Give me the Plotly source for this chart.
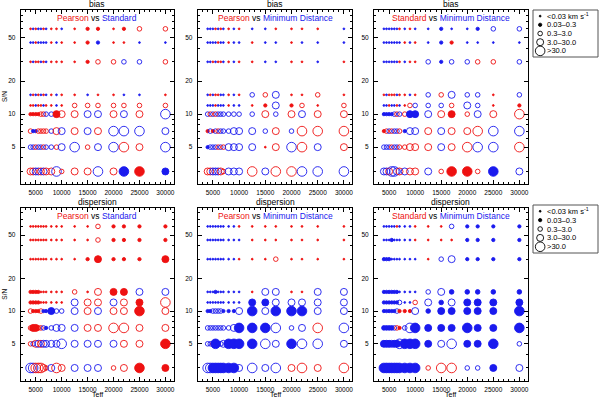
import plotly.graph_objects as go

# Teff grid (columns) and S/N grid (rows, top to bottom)
TEFF = [4000, 4500, 5000, 5500, 6000, 6500, 7000, 8000, 9000, 10000,
        12500, 15000, 17000, 20000, 22000, 25000, 30000]
SN = [60, 45, 30, 15, 12, 10, 7, 5, 3]

# cell codes: colour (r/b) + magnitude class (1..5) + 'f' when filled
BIAS_PEARSON_STANDARD = [
    "r1 b1 r1 b1 b1 r1 b1 r1 r1 b1 r1 r2 r2 r1 r2 r3 r3",
    "b1 b1 r1 b1 b1 b1 b1 r1 b1 r1 r1 r2 b2 r1 r1 b1 b1",
    "r1 b1 r1 r1 b1 r1 b1 r1 r1 r1 r1 r2 r3 r3 b3 b3 r3",
    "b1 r1 b1 r1 b1 r1 b1 r1 b1 r1 r1 b1 r1 r1 b1 b1 r1",
    "r1 r1 b1 r1 r1 b1 r1 r1 b1 r1 r3 r3 r3 r3 r3 r3 r3",
    "r2 r2 r2 r2 r3 r3 b3 b3 r4f r4 r4 b4 b4 r4 b4 r4 b5",
    "r3 b2 b2 r3 r3 r3 r3 b3 r4 b4 r4 b4 r4 b5 b5 b5 b4",
    "b3 b3 r3 b3 b3 r3 b3 b3 r3 b4 b5 r3 b4 b5 r5 r4 b5",
    "r4 r4 b4 b4 r4 b4 r4 r4 b5 r3 r4 r4 b5 r4 b5f r5f b4f",
]
BIAS_PEARSON_MINDIST = [
    "b1 b1 b1 r1 b1 r1 b1 r1 b1 r1 b1 b1 r1 r1 r1 r1 b1",
    "b1 b1 b1 b1 r1 b1 b1 r1 b1 b1 r1 b1 b1 r1 b1 b1 b1",
    "b1 b1 r1 b1 r1 r1 b1 r1 b1 r1 r1 b1 b1 r1 r1 b1 r1",
    "b1 r1 b1 r1 r1 b1 b1 r1 b1 r1 b3 r3 b4 r1 r1 r3 r1",
    "b1 b1 b1 r1 b1 b1 b1 r1 b1 b1 r1 r2 b4 r2 r3 r1 r3",
    "b3 r3 b3 r3 b3 b3 b3 b3 b3 b3 b3 r4 b3 r4 b4 r4 r4",
    "r2 b3 r2 b3 r3 b3 b3 b3 b4 b4 b4 b3 r4 b3 r5 r5 r5",
    "b2 b3 b3 b3 r3 b3 r3 b4 b4 b4 b4 r1 r4 b5 r5 b4 r4",
    "r4 r4 b4 b4 b4 r4 r3 b4 b4 b4 r5 b4 r5 r5 b5 b5 b5",
]
BIAS_STANDARD_MINDIST = [
    "b1 b1 b1 b1 b1 b1 r1 b1 r1 b1 b1 b2 b1 b1 b2 b3 b3",
    "b1 b1 b1 b1 b1 b1 b1 r1 b1 r1 b1 b2 r2 b1 b1 b1 b1",
    "b1 b1 b1 b1 b1 b1 r1 b1 r1 r1 b3 b2 b3 b3 r3 r3 b3",
    "r1 b1 r1 r1 r1 b1 r1 r1 b1 r1 b3 r3 b4 b3 b3 r1 b3",
    "b1 b1 r1 b1 b1 r1 b1 r1 r3 b3 b3 b3 r3 b4 b3 r1 r2",
    "b2 b2 b2 b2 b3 r3 b3 r3 b4f b4f b4 r4 r4f r3 b4 r4 r5",
    "r2 r3 b3 r3 b3 b3 r3 b2 b4 b4 r4 b4 r4 r4 r5 b5 b5",
    "b3 b3 b3 r3 b3 b3 r3 r3 r4 r4 r4 b4 r4 r5 b5 b5 r5",
    "b4 b4 r4 b5 b5 b4 r4 b4 r4 r4 b4 r3 r5f r5f r3 b5f b4",
]
DISP_PEARSON_STANDARD = [
    "r1 r1 r1 r1 r1 r1 r1 r1 r1 r1 r1 r1 r3 r2 r2 r2 r2",
    "r1 r1 r1 r1 r1 r1 r1 r1 r1 r1 r1 r1 r3 r2 r2 r2 r2",
    "r1 r1 r1 r1 r1 r1 r1 r1 r1 r1 r1 r2 r4f r2 r2 r2 r4f",
    "r2 r2 r2 r2 r1 r1 r1 r1 r1 r1 r3 r1 r4 r4f r4f b4 b4",
    "r2 r2 r2 r2 r1 r1 r1 r1 r1 r1 b4 r4 r4 b4 r4 r4f r5",
    "r3 r2 r2 r2 r3 b2 b2 b4f b3 b3 b4 r4 b4 r4 r4 r5f r4",
    "r3 r4f r4f r3 r3 b3 b2 b3 b4 b4 b4 r4 r4 r5 r5 r4 r4",
    "r3 b3 r4 b4 r4 b4 b4 b4 b4 b5 b4 b4 b4 b4 r4 r4 r5f",
    "b5 b5 r5 r5 r5 r4 r3 b4 r5 r4 b4 b4 b4 r3 r4 r5f r4f",
]
DISP_PEARSON_MINDIST = [
    "b1 b1 b1 b1 b1 b1 b1 b1 b1 r1 r1 r1 r1 r1 r1 r1 r1",
    "b1 b1 b1 b1 b1 b1 b1 b1 b1 b1 r1 r1 r1 r1 r1 r1 r1",
    "b1 b1 b1 b1 b1 b1 b1 b1 b1 r1 r1 r1 r3 r1 r1 r1 r1",
    "b1 b1 b1 b2 b1 b1 b1 b1 b1 b1 r1 b4 b4 r1 r1 b4 b4",
    "b1 b1 b1 b1 b1 b1 b1 b1 b1 b1 b4f b4f b4 b4 b4 b4 b4",
    "b2 b2 b3 b3 b3 b3 b2 b2 b2 b4 b5f b4 b5f b5f b5f b4 b4",
    "b3 b3 b3 b3 b3 b3 b3 b3 b4 b5f b5f b5f b5 b3 b4 r5 b5",
    "b3 b3 r3 b5f b3 b3 b4 b5f b5f b5f b5f b5 b4 b5f b5 b5 b4",
    "b5 b5 b5f b5f b5f b5f b5f b5f b5f b4 b5 b4 b5 r4 r5 r4 r5",
]
DISP_STANDARD_MINDIST = [
    "b1 b1 b1 b1 b1 r1 b1 b1 b1 r1 r1 r1 b3 b2 b2 b2 b2",
    "b1 b1 b1 b2 b1 b1 b1 b1 b1 r1 r1 r1 r1 b2 b2 b2 b2",
    "b2 b2 b2 b1 b1 b1 b1 b1 b1 b1 r1 b3 b4 b2 b2 b2 b2",
    "b2 b2 b2 b2 b2 b2 b1 b1 b1 b1 b3 b4 b3f b3f b3f b3f b3f",
    "b2 b2 b2 b2 b2 b2 b3 b1 b1 r3 b4 b3f b4 b4f b4f b4f b4f",
    "b2 b2 b2 b2 b2 b3 r2 r2 r2 b4 b3f b4f b4f b4f b4f b4f b5f",
    "b3f b3f b3f b3f b3 r3 r2 b3 b5 b5f b4f b4f b4f b5f b4f b4f b5f",
    "b4f b4f b4f b4 b4f b4f b5 b5f b5f b5f b4f b4 b5 b4f b4f b5f b3",
    "b5f b5f b5f b5f b5f b5f b5f b5f b5f b5f r3 r5 r5 b3 b3 b4f b4",
]

LEGEND_LABELS = ["<0.03 km s<sup>-1</sup>", "0.03\u20130.3", "0.3\u20133.0",
                 "3.0\u201330.0", ">30.0"]

RED = "#ee1111"
BLUE = "#1a1aee"
SIZE_PX = {1: 1.8, 2: 3.3, 3: 4.6, 4: 7.0, 5: 9.6}
FONT = "Liberation Sans"

panels = [
    (BIAS_PEARSON_STANDARD, "bias", ("Pearson", "Standard")),
    (BIAS_PEARSON_MINDIST, "bias", ("Pearson", "Minimum Distance")),
    (BIAS_STANDARD_MINDIST, "bias", ("Standard", "Minimum Distance")),
    (DISP_PEARSON_STANDARD, "dispersion", ("Pearson", "Standard")),
    (DISP_PEARSON_MINDIST, "dispersion", ("Pearson", "Minimum Distance")),
    (DISP_STANDARD_MINDIST, "dispersion", ("Standard", "Minimum Distance")),
]

# pixel geometry of the plot frames
W, H = 600, 399
XPIX = [(20.7, 173.7), (197.7, 352.3), (374.0, 527.7)]
YPIX = [(10.0, 184.3), (207.7, 380.7)]

fig = go.Figure()
annotations = []
shapes = []

for i, (rows, kind, (m1, m2)) in enumerate(panels):
    r, c = divmod(i, 3)
    n = "" if i == 0 else str(i + 1)
    xs, ys, cols, syms, sizes = [], [], [], [], []
    for sn, row in zip(SN, rows):
        for teff, tok in zip(TEFF, row.split()):
            lvl = int(tok[1])
            filled = lvl <= 2 or tok.endswith("f")
            xs.append(teff)
            ys.append(sn)
            cols.append(RED if tok[0] == "r" else BLUE)
            syms.append("circle" if filled else "circle-open")
            sizes.append(SIZE_PX[lvl])
    fig.add_trace(go.Scatter(
        x=xs, y=ys, mode="markers", xaxis="x" + n, yaxis="y" + n,
        marker=dict(color=cols, symbol=syms, size=sizes, opacity=1,
                    line=dict(width=0.9, color=cols)),
        showlegend=False, hoverinfo="skip"))

    x0, x1 = XPIX[c]
    y0, y1 = YPIX[r]
    common = dict(showline=True, linecolor="black", linewidth=1, mirror="allticks",
                  ticks="inside", ticklen=4, tickcolor="black", showgrid=False,
                  zeroline=False, tickfont=dict(family=FONT, size=6.5, color="black"))
    fig.layout["xaxis" + n] = dict(
        common, domain=[x0 / W, x1 / W], anchor="y" + n, range=[2100, 31600],
        tickvals=[5000, 10000, 15000, 20000, 25000, 30000], tickformat="d",
        ticklabelstandoff=2,
        minor=dict(ticks="inside", ticklen=2, dtick=1000, tickcolor="black"))
    fig.layout["yaxis" + n] = dict(
        common, domain=[1 - y1 / H, 1 - y0 / H], anchor="x" + n, type="log",
        range=[0.36, 1.95], tickvals=[5, 10, 20, 50], ticklabelstandoff=3,
        minor=dict(ticks="inside", ticklen=2, tickcolor="black",
                   tickvals=[3, 4, 6, 7, 8, 9, 30, 40, 60, 70, 80]))

    xc = (x0 + x1) / 2 / W
    annotations.append(dict(text=kind, x=xc, y=1 - (y0 - 5.5) / H, xref="paper", yref="paper",
                            showarrow=False, xanchor="center", yanchor="middle",
                            font=dict(family=FONT, size=8.5, color="black")))
    annotations.append(dict(
        text=f"<span style='color:{RED}'>{m1}</span> vs <span style='color:{BLUE}'>{m2}</span>",
        x=xc, y=1 - (y0 + 8) / H, xref="paper", yref="paper", showarrow=False,
        xanchor="center", yanchor="middle", font=dict(family=FONT, size=8.5, color="black")))
    if c == 0:
        annotations.append(dict(text="S/N", x=5 / W, y=1 - (y0 + 87) / H, xref="paper",
                                yref="paper", showarrow=False, textangle=-90,
                                xanchor="center", yanchor="middle",
                                font=dict(family=FONT, size=6.5, color="black")))
    if r == 1:
        annotations.append(dict(text="Teff", x=xc, y=1 - 394 / H, xref="paper", yref="paper",
                                showarrow=False, xanchor="center", yanchor="middle",
                                font=dict(family=FONT, size=7, color="black")))

# size legends, one beside each row of panels
for k, (top, bot) in enumerate([(10, 57), (205, 253)]):
    n = str(7 + k)
    fig.layout["xaxis" + n] = dict(domain=[533 / W, 598 / W], range=[0, 1], visible=False,
                                   anchor="y" + n)
    fig.layout["yaxis" + n] = dict(domain=[1 - bot / H, 1 - top / H], range=[0, 1],
                                   visible=False, anchor="x" + n)
    ly = [1 - (0.13 + 0.185 * j) for j in range(5)]
    fig.add_trace(go.Scatter(
        x=[0.11] * 5, y=ly, mode="markers", xaxis="x" + n, yaxis="y" + n,
        marker=dict(color="black", size=[SIZE_PX[j] for j in range(1, 6)], opacity=1,
                    symbol=["circle", "circle", "circle-open", "circle-open", "circle-open"],
                    line=dict(width=0.9, color="black")),
        showlegend=False, hoverinfo="skip"))
    for j, lab in enumerate(LEGEND_LABELS):
        annotations.append(dict(text=lab, x=545 / W, y=1 - (top + (bot - top) * (0.13 + 0.185 * j)) / H,
                                xref="paper", yref="paper", xanchor="left", yanchor="middle",
                                showarrow=False, font=dict(family=FONT, size=7.5, color="black")))
    shapes.append(dict(type="rect", xref="paper", yref="paper", x0=533 / W, x1=598 / W,
                       y0=1 - bot / H, y1=1 - top / H, line=dict(color="#555555", width=1)))

fig.update_layout(width=W, height=H, margin=dict(l=0, r=0, t=0, b=0),
                  paper_bgcolor="white", plot_bgcolor="white",
                  annotations=annotations, shapes=shapes)

# the page's default body margin would push the figure off the window
fig.write_html("out.html", config={"displayModeBar": False},
               post_script="document.body.style.margin='0px';")
